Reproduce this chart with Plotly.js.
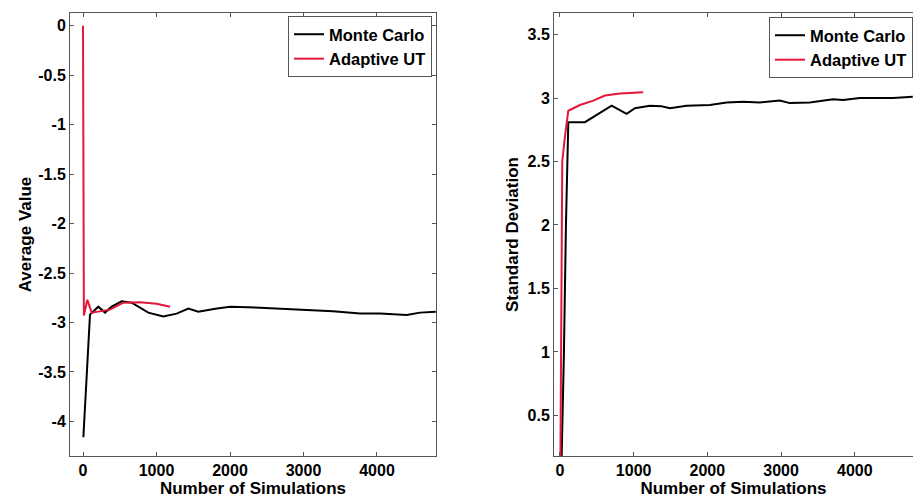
<!DOCTYPE html>
<html>
<head>
<meta charset="utf-8">
<script src="https://cdn.plot.ly/plotly-3.0.1.min.js"></script>
<style>html,body{margin:0;padding:0;overflow:hidden;background:#fff;}</style>
</head>
<body>
<div id="chart" style="width:913px;height:499px;"></div>
<script>
// Left panel: Average Value
const mcMeanX = [5, 95, 208, 299, 390, 526, 662, 776, 889, 1093, 1274, 1433, 1569, 1800, 2000, 2408, 2816, 3042, 3401, 3769, 4041, 4404, 4585, 4800];
const mcMeanY = [-4.16, -2.92, -2.84, -2.90, -2.84, -2.785, -2.80, -2.85, -2.90, -2.94, -2.91, -2.86, -2.89, -2.86, -2.84, -2.85, -2.865, -2.87, -2.885, -2.91, -2.91, -2.925, -2.90, -2.89];
const utMeanX = [0, 12, 59, 118, 367, 549, 776, 1002, 1184];
const utMeanY = [0.0, -2.93, -2.77, -2.90, -2.87, -2.80, -2.795, -2.81, -2.84];

// Right panel: Standard Deviation
const mcStdX = [20, 54, 81, 113, 339, 452, 701, 904, 1017, 1220, 1378, 1492, 1717, 2034, 2260, 2486, 2712, 2983, 3119, 3390, 3616, 3706, 3842, 4068, 4294, 4520, 4787];
const mcStdY = [0.1, 1.0, 2.0, 2.81, 2.81, 2.85, 2.94, 2.875, 2.92, 2.94, 2.935, 2.92, 2.94, 2.945, 2.965, 2.97, 2.965, 2.98, 2.96, 2.965, 2.98, 2.99, 2.985, 3.0, 3.0, 3.0, 3.01];
const utStdX = [5, 31, 68, 113, 271, 452, 610, 814, 1130];
const utStdY = [0.05, 2.5, 2.70, 2.90, 2.945, 2.98, 3.02, 3.035, 3.045];

const seriesNames = ["Monte Carlo", "Adaptive UT"];
const xTicks = [0, 1000, 2000, 3000, 4000];
const yTicksLeft = [0, -0.5, -1, -1.5, -2, -2.5, -3, -3.5, -4];
const yTicksRight = [0.5, 1, 1.5, 2, 2.5, 3, 3.5];

const BLACK = "#000000";
const RED = "#e4163a";
const FAMILY = "Liberation Sans, Arial, sans-serif";
const TICKFONT = {family: FAMILY, size: 16, color: "#000", weight: "bold"};
const TITLEFONT = {family: FAMILY, size: 17, color: "#000", weight: "bold"};
const LEGFONT = {family: FAMILY, size: 16.5, color: "#000", weight: "bold"};
const bold = v => "<b>" + String(v) + "</b>";

const traces = [
  {x: mcMeanX, y: mcMeanY, xaxis: "x", yaxis: "y", mode: "lines", name: bold(seriesNames[0]), line: {color: BLACK, width: 2}, legend: "legend"},
  {x: utMeanX, y: utMeanY, xaxis: "x", yaxis: "y", mode: "lines", name: bold(seriesNames[1]), line: {color: RED, width: 2}, legend: "legend"},
  {x: mcStdX, y: mcStdY, xaxis: "x2", yaxis: "y2", mode: "lines", name: bold(seriesNames[0]), line: {color: BLACK, width: 2}, legend: "legend2"},
  {x: utStdX, y: utStdY, xaxis: "x2", yaxis: "y2", mode: "lines", name: bold(seriesNames[1]), line: {color: RED, width: 2}, legend: "legend2"}
];

const axBase = {
  showgrid: false, zeroline: false, showline: true, linecolor: "#555", linewidth: 1, automargin: false,
  ticks: "inside", ticklen: 4, tickcolor: "#555", tickfont: TICKFONT, tickmode: "array"
};
const W = 913, H = 499;
const yDom = [1 - 456 / H, 1 - 13 / H];

const layout = {
  width: W, height: H,
  margin: {l: 0, r: 0, t: 0, b: 0},
  paper_bgcolor: "#fff", plot_bgcolor: "#fff",
  font: TICKFONT,
  xaxis: Object.assign({}, axBase, {
    domain: [70 / W, 436 / W], range: [-177, 4803], tickvals: xTicks, ticktext: xTicks.map(bold), mirror: "ticks",
    title: {text: bold("Number of Simulations"), font: TITLEFONT, standoff: 0}, anchor: "y"
  }),
  yaxis: Object.assign({}, axBase, {
    domain: yDom, range: [-4.35, 0.13], tickvals: yTicksLeft, ticktext: yTicksLeft.map(bold), mirror: "ticks",
    title: {text: bold("Average Value"), font: TITLEFONT, standoff: 2}, anchor: "x"
  }),
  xaxis2: Object.assign({}, axBase, {
    domain: [554 / W, 1], range: [-81, 4790], tickvals: xTicks, ticktext: xTicks.map(bold), mirror: "ticks",
    title: {text: bold("Number of Simulations"), font: TITLEFONT, standoff: 0}, anchor: "y2"
  }),
  yaxis2: Object.assign({}, axBase, {
    domain: yDom, range: [0.18, 3.67], tickvals: yTicksRight, ticktext: yTicksRight.map(bold), mirror: false,
    title: {text: bold("Standard Deviation"), font: TITLEFONT, standoff: 4}, anchor: "x2"
  }),
  legend: {
    x: 432 / W, xanchor: "right", y: 1 - 16 / H, yanchor: "top",
    bordercolor: "#555", borderwidth: 1, bgcolor: "#fff", font: LEGFONT,
    tracegroupgap: 0, itemwidth: 30
  },
  legend2: {
    x: 1, xanchor: "right", y: 1 - 17 / H, yanchor: "top",
    bordercolor: "#555", borderwidth: 1, bgcolor: "#fff", font: LEGFONT,
    tracegroupgap: 0, itemwidth: 30
  },
  showlegend: true
};

Plotly.newPlot("chart", traces, layout, {staticPlot: true, displayModeBar: false});
</script>
</body>
</html>
